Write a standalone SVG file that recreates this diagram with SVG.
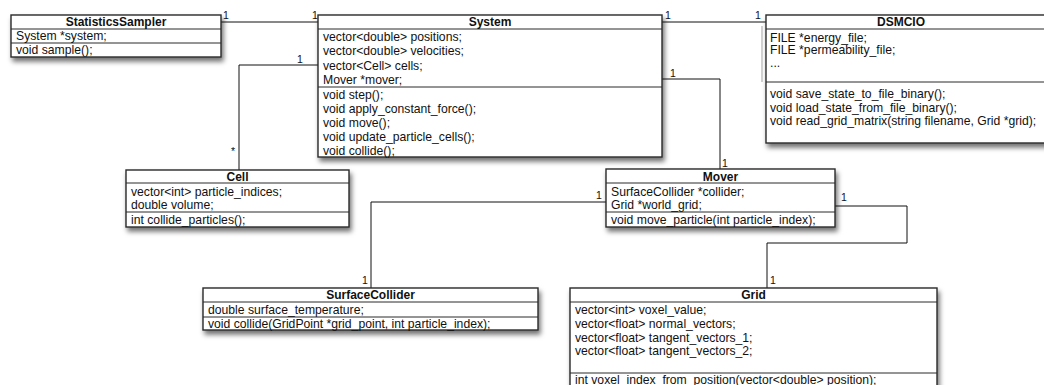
<svg xmlns="http://www.w3.org/2000/svg" width="1044" height="385" viewBox="0 0 1044 385">
  <defs>
    <filter id="shadow" x="-10%" y="-20%" width="125%" height="150%">
      <feDropShadow dx="2" dy="4" stdDeviation="2.5" flood-color="#000" flood-opacity="0.55"/>
    </filter>
  </defs>
  <style>
    .box { fill: #fff; stroke: #2a2a2a; stroke-width: 1.4; filter: url(#shadow); }
    .sep { stroke: #2a2a2a; stroke-width: 1; fill: none; }
    .title { font-family: "Liberation Sans", Arial, sans-serif; font-size: 12px; font-weight: bold; fill: #111; text-anchor: middle; }
    .mem { font-family: "Liberation Sans", Arial, sans-serif; font-size: 12.2px; fill: #111; }
    .edge { stroke: #111; stroke-width: 1; fill: none; }
    .mult { font-family: "Liberation Sans", Arial, sans-serif; font-size: 10.5px; fill: #111; }
    .grip { stroke: #d0d0d0; stroke-width: 2; fill: none; }
  </style>

  <!-- associations -->
  <g id="connectors">
    <path class="edge" d="M221,22 H318"/>
    <path class="edge" d="M318,65 H239 V170"/>
    <path class="edge" d="M662,22 H766"/>
    <path class="edge" d="M662,79 H720 V169"/>
    <path class="edge" d="M606,202 H371 V288"/>
    <path class="edge" d="M835,206 H907 V243 H767 V288"/>
    <text class="mult" x="223" y="19">1</text>
    <text class="mult" x="312" y="19">1</text>
    <text class="mult" x="297" y="63">1</text>
    <text class="mult" x="231" y="155">*</text>
    <text class="mult" x="665" y="19">1</text>
    <text class="mult" x="755" y="19">1</text>
    <text class="mult" x="670" y="77">1</text>
    <text class="mult" x="722" y="167">1</text>
    <text class="mult" x="596" y="199">1</text>
    <text class="mult" x="362" y="284">1</text>
    <text class="mult" x="841" y="201">1</text>
    <text class="mult" x="770" y="284">1</text>
  </g>

  <g id="StatisticsSampler">
    <rect class="box" x="11" y="15" width="210" height="42"/>
    <line class="sep" x1="11" y1="29" x2="221" y2="29"/>
    <line class="sep" x1="11" y1="43" x2="221" y2="43"/>
    <text class="title" x="116" y="26">StatisticsSampler</text>
    <text class="mem" x="16" y="40">System *system;</text>
    <text class="mem" x="16" y="54">void sample();</text>
  </g>

  <g id="System">
    <rect class="box" x="318" y="15" width="344" height="142"/>
    <line class="sep" x1="318" y1="29" x2="662" y2="29"/>
    <line class="sep" x1="318" y1="87" x2="662" y2="87"/>
    <text class="title" x="490" y="26">System</text>
    <text class="mem" x="323" y="40.5">vector&lt;double&gt; positions;</text>
    <text class="mem" x="323" y="55">vector&lt;double&gt; velocities;</text>
    <text class="mem" x="323" y="70">vector&lt;Cell&gt; cells;</text>
    <text class="mem" x="323" y="84">Mover *mover;</text>
    <text class="mem" x="323" y="99">void step();</text>
    <text class="mem" x="323" y="113">void apply_constant_force();</text>
    <text class="mem" x="323" y="127">void move();</text>
    <text class="mem" x="323" y="141">void update_particle_cells();</text>
    <text class="mem" x="323" y="155">void collide();</text>
  </g>

  <g id="DSMCIO">
    <rect class="box" x="766" y="15" width="290" height="128"/>
    <line class="sep" x1="766" y1="29" x2="1056" y2="29"/>
    <line class="sep" x1="766" y1="82" x2="1056" y2="82"/>
    <line class="grip" x1="762" y1="26" x2="762" y2="82"/>
    <text class="title" x="901" y="26">DSMCIO</text>
    <text class="mem" x="770" y="41.5">FILE *energy_file;</text>
    <text class="mem" x="770" y="54">FILE *permeability_file;</text>
    <text class="mem" x="770" y="66.5">...</text>
    <text class="mem" x="770" y="98">void save_state_to_file_binary();</text>
    <text class="mem" x="770" y="111.5">void load_state_from_file_binary();</text>
    <text class="mem" x="770" y="125">void read_grid_matrix(string filename, Grid *grid);</text>
  </g>

  <g id="Cell">
    <rect class="box" x="126" y="170" width="223" height="57"/>
    <line class="sep" x1="126" y1="183" x2="349" y2="183"/>
    <line class="sep" x1="126" y1="212" x2="349" y2="212"/>
    <text class="title" x="237.5" y="180.5">Cell</text>
    <text class="mem" x="131" y="196">vector&lt;int&gt; particle_indices;</text>
    <text class="mem" x="131" y="208.5">double volume;</text>
    <text class="mem" x="131" y="224">int collide_particles();</text>
  </g>

  <g id="Mover">
    <rect class="box" x="606" y="169" width="229" height="58"/>
    <line class="sep" x1="606" y1="183" x2="835" y2="183"/>
    <line class="sep" x1="606" y1="212" x2="835" y2="212"/>
    <text class="title" x="720.5" y="180.5">Mover</text>
    <text class="mem" x="611" y="195.5">SurfaceCollider *collider;</text>
    <text class="mem" x="611" y="209">Grid *world_grid;</text>
    <text class="mem" x="611" y="224">void move_particle(int particle_index);</text>
  </g>

  <g id="SurfaceCollider">
    <rect class="box" x="203" y="288" width="335" height="42"/>
    <line class="sep" x1="203" y1="302" x2="538" y2="302"/>
    <line class="sep" x1="203" y1="317" x2="538" y2="317"/>
    <text class="title" x="370.5" y="299">SurfaceCollider</text>
    <text class="mem" x="208" y="313.5">double surface_temperature;</text>
    <text class="mem" x="208" y="327.5">void collide(GridPoint *grid_point, int particle_index);</text>
  </g>

  <g id="Grid">
    <rect class="box" x="570" y="288" width="367" height="110"/>
    <line class="sep" x1="570" y1="302" x2="937" y2="302"/>
    <line class="sep" x1="570" y1="373" x2="937" y2="373"/>
    <text class="title" x="753.5" y="299">Grid</text>
    <text class="mem" x="575" y="313.5">vector&lt;int&gt; voxel_value;</text>
    <text class="mem" x="575" y="327.5">vector&lt;float&gt; normal_vectors;</text>
    <text class="mem" x="575" y="341.5">vector&lt;float&gt; tangent_vectors_1;</text>
    <text class="mem" x="575" y="355">vector&lt;float&gt; tangent_vectors_2;</text>
    <text class="mem" x="575" y="384">int voxel_index_from_position(vector&lt;double&gt; position);</text>
  </g>
</svg>
